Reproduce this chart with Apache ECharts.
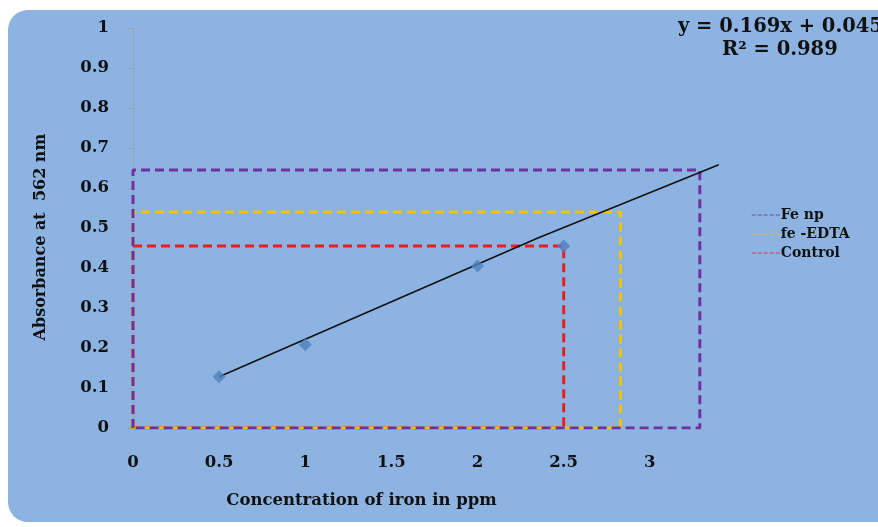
<!DOCTYPE html>
<html>
<head>
<meta charset="utf-8">
<script src="https://cdn.jsdelivr.net/npm/echarts@6/dist/echarts.min.js"></script>
<style>
  html, body { margin: 0; padding: 0; background: #fff; }
  #chart { width: 878px; height: 527px; }
</style>
</head>
<body>
<div id="chart"></div>
<script>
// measured points (concentration ppm, absorbance)
const concentration = [0.5, 1, 2, 2.5]
const absorbance = [0.128, 0.208, 0.405, 0.455]

// trend line as drawn on the picture
const trendX = [0.5, 2.35, 3.4]
const trendY = [0.128, 0.475, 0.658]

// guide boxes: [x end, y level]
const fenpBox = [3.29, 0.645]
const edtaBox = [2.83, 0.54]
const controlBox = [2.5, 0.455]

const yTicks = [0, 0.1, 0.2, 0.3, 0.4, 0.5, 0.6, 0.7, 0.8, 0.9, 1]

const serif = '"DejaVu Serif", "Liberation Serif", serif'

const box = ([x, y]) => [[0, 0], [0, y], [x, y], [x, 0], [0, 0]]

const chart = echarts.init(document.getElementById('chart'))

const dashed = (name, color, data, z) => ({
  name,
  type: 'line',
  data,
  symbol: 'none',
  z,
  lineStyle: { color, width: 3, type: [9, 5] },
  itemStyle: { color },
  animation: false
})

const option = {
  backgroundColor: '#fff',
  textStyle: { fontFamily: serif },
  graphic: [
    {
      type: 'rect',
      z: -10,
      silent: true,
      shape: { x: 8, y: 10, width: 900, height: 512, r: 20 },
      style: { fill: '#8db3e2' }
    },
    {
      type: 'text',
      left: 678,
      top: 17,
      style: {
        text: 'y = 0.169x + 0.045',
        font: 'bold 19.5px ' + serif,
        fill: '#111'
      }
    },
    {
      type: 'text',
      left: 722,
      top: 40,
      style: {
        text: 'R² = 0.989',
        font: 'bold 19.5px ' + serif,
        fill: '#111'
      }
    }
  ],
  legend: {
    orient: 'vertical',
    left: 746,
    top: 203,
    itemGap: 5,
    itemWidth: 30,
    itemHeight: 14,
    data: ['Fe np', 'fe -EDTA', 'Control'],
    textStyle: { fontFamily: serif, fontWeight: 'bold', fontSize: 14, color: '#111', padding: [0, 0, 0, -6] },
    itemStyle: { opacity: 0 },
    lineStyle: { width: 1.5, opacity: 0.55, type: [4, 2] }
  },
  grid: { left: 133, top: 28, width: 603, height: 400 },
  xAxis: {
    type: 'value',
    min: 0,
    max: 3.5,
    interval: 0.5,
    name: 'Concentration of iron in ppm',
    nameLocation: 'middle',
    nameGap: 64,
    nameTextStyle: { fontFamily: serif, fontWeight: 'bold', fontSize: 16.5, color: '#111', padding: [0, 146, 0, 0] },
    axisLine: { show: false },
    axisTick: { show: false },
    splitLine: { show: false },
    axisLabel: {
      fontFamily: serif,
      fontWeight: 'bold',
      fontSize: 16.5,
      color: '#111',
      margin: 26,
      formatter: v => (v > 3 ? '' : String(v))
    }
  },
  yAxis: {
    type: 'value',
    min: 0,
    max: 1,
    interval: 0.1,
    name: 'Absorbance at  562 nm',
    nameLocation: 'middle',
    nameGap: 84,
    nameTextStyle: { fontFamily: serif, fontWeight: 'bold', fontSize: 16, color: '#111', padding: [0, 18, 0, 0] },
    axisLine: { show: true, lineStyle: { color: '#9aa3ad' } },
    axisTick: { show: true, length: 5, lineStyle: { color: '#9aa3ad' } },
    splitLine: { show: false },
    axisLabel: {
      fontFamily: serif,
      fontWeight: 'bold',
      fontSize: 16.5,
      color: '#111',
      margin: 24,
      formatter: v => String(yTicks.find(t => Math.abs(t - v) < 1e-6) ?? v)
    }
  },
  series: [
    dashed('Control', '#ee1c1c', box(controlBox), 3),
    dashed('fe -EDTA', '#f2c300', box(edtaBox), 4),
    dashed('Fe np', '#7030a0', box(fenpBox), 5),
    {
      name: 'trend',
      type: 'line',
      data: trendX.map((x, i) => [x, trendY[i]]),
      symbol: 'none',
      z: 6,
      lineStyle: { color: '#111', width: 1.5 },
      animation: false
    },
    {
      name: 'points',
      type: 'scatter',
      data: concentration.map((x, i) => [x, absorbance[i]]),
      symbol: 'diamond',
      symbolSize: 13,
      z: 7,
      itemStyle: { color: '#4f81bd' },
      animation: false
    }
  ]
}

chart.setOption(option)
</script>
</body>
</html>
